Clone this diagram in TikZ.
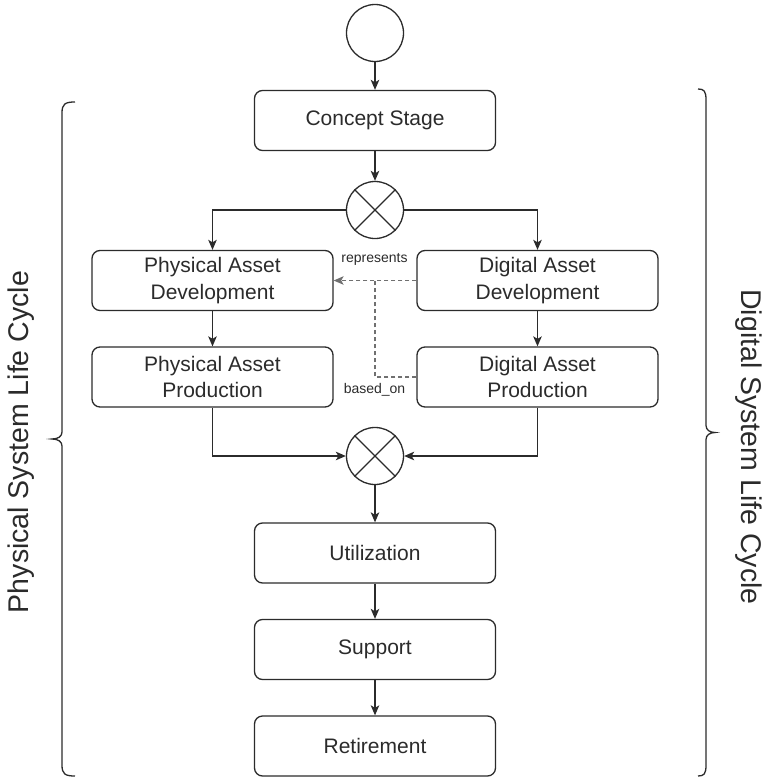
\documentclass[tikz,border=0pt]{standalone}
\usepackage{fontspec}
\setmainfont{Liberation Sans}
\usetikzlibrary{arrows.meta}
\definecolor{ink}{HTML}{2B2B2B}
\definecolor{dashgray}{HTML}{707070}
\begin{document}
\begin{tikzpicture}[x=1pt,y=-1pt,
  stage/.style={draw=ink, line width=1.3pt, rounded corners=8pt,
    minimum width=241pt, minimum height=60pt, align=center,
    font=\fontsize{21}{26.5}\selectfont, text=ink, inner sep=0pt},
  gate/.style={draw=ink, line width=1.3pt, circle, minimum size=57pt, inner sep=0pt},
  tip/.style={-{Stealth[length=10pt,width=8.5pt,inset=2.5pt]}},
  flow/.style={draw=ink, line width=1.3pt, tip},
  trace/.style={draw=dashgray, line width=1.1pt, dash pattern=on 4pt off 3pt},
  tag/.style={font=\fontsize{14}{16}\selectfont, text=ink, inner sep=0pt},
  side/.style={font=\fontsize{28.5}{32}\selectfont, text=ink, inner sep=0pt},
  brace/.style={draw=ink, line width=1.3pt}]
\useasboundingbox (0,0) rectangle (766,779);

% activity nodes
\node[gate]  (start)   at (375,33)      {};
\node[stage] (concept) at (375,120.5)   {Concept Stage};
\node[gate]  (fork)    at (375,210)     {};
\node[stage] (pad)     at (212.5,280.5) {Physical Asset\\Development};
\node[stage] (dad)     at (537.5,280.5) {Digital Asset\\Development};
\node[stage] (pap)     at (212.5,377)   {Physical Asset\\Production};
\node[stage] (dap)     at (537.5,377)   {Digital Asset\\Production};
\node[gate]  (join)    at (375,456)     {};
\node[stage] (use)     at (375,553)     {Utilization};
\node[stage] (sup)     at (375,649.5)   {Support};
\node[stage] (ret)     at (375,746)     {Retirement};

% crosses inside the parallel gateways
\foreach \g in {fork,join}
  \draw[ink, line width=1.3pt] (\g.north west) -- (\g.south east)
                               (\g.north east) -- (\g.south west);

% control flow
\draw[flow] (start.south) -- (concept.north);
\draw[flow] (concept.south) -- (fork.north);
\draw[flow] (fork.west) -| (pad.north);
\draw[flow] (fork.east) -| (dad.north);
\draw[flow] (pad.south) -- (pap.north);
\draw[flow] (dad.south) -- (dap.north);
\draw[flow] (pap.south) |- (join.west);
\draw[flow] (dap.south) |- (join.east);
\draw[flow] (join.south) -- (use.north);
\draw[flow] (use.south) -- (sup.north);
\draw[flow] (sup.south) -- (ret.north);

% trace links between digital and physical assets
\coordinate (merge) at (375,280.5);
\draw[trace, tip, draw=dashgray] (dad.west) -- (pad.east);
\draw[trace] (dap.west) -| (merge);
\node[tag, anchor=base] (rep)     at (374.5,262) {represents};
\node[tag, anchor=base] (basedon) at (374.5,393) {based\_on};

% life cycle braces
\coordinate (lt) at (75,102);
\coordinate (lb) at (75,776);
\coordinate (ltip) at (52,439);
\draw[brace] (lt) .. controls (65,102) and (62,104) .. (62,113) -- (62,432)
  .. controls (62,436.5) and (58,439) .. (ltip)
  .. controls (58,439) and (62,441.5) .. (62,446) -- (62,765)
  .. controls (62,774) and (65,776) .. (lb);
\coordinate (rt) at (698,89);
\coordinate (rb) at (698,776);
\coordinate (rtip) at (715,432.5);
\draw[brace] (rt) .. controls (704,89) and (706,91) .. (706,100) -- (706,425.5)
  .. controls (706,430) and (710,432.5) .. (rtip)
  .. controls (710,432.5) and (706,435) .. (706,439.5) -- (706,765)
  .. controls (706,774) and (704,776) .. (rb);

\node[side, rotate=90]  (phys) at (21.5,442) {Physical System Life Cycle};
\node[side, rotate=-90] (digi) at (749,447)  {Digital System Life Cycle};
\end{tikzpicture}
\end{document}
